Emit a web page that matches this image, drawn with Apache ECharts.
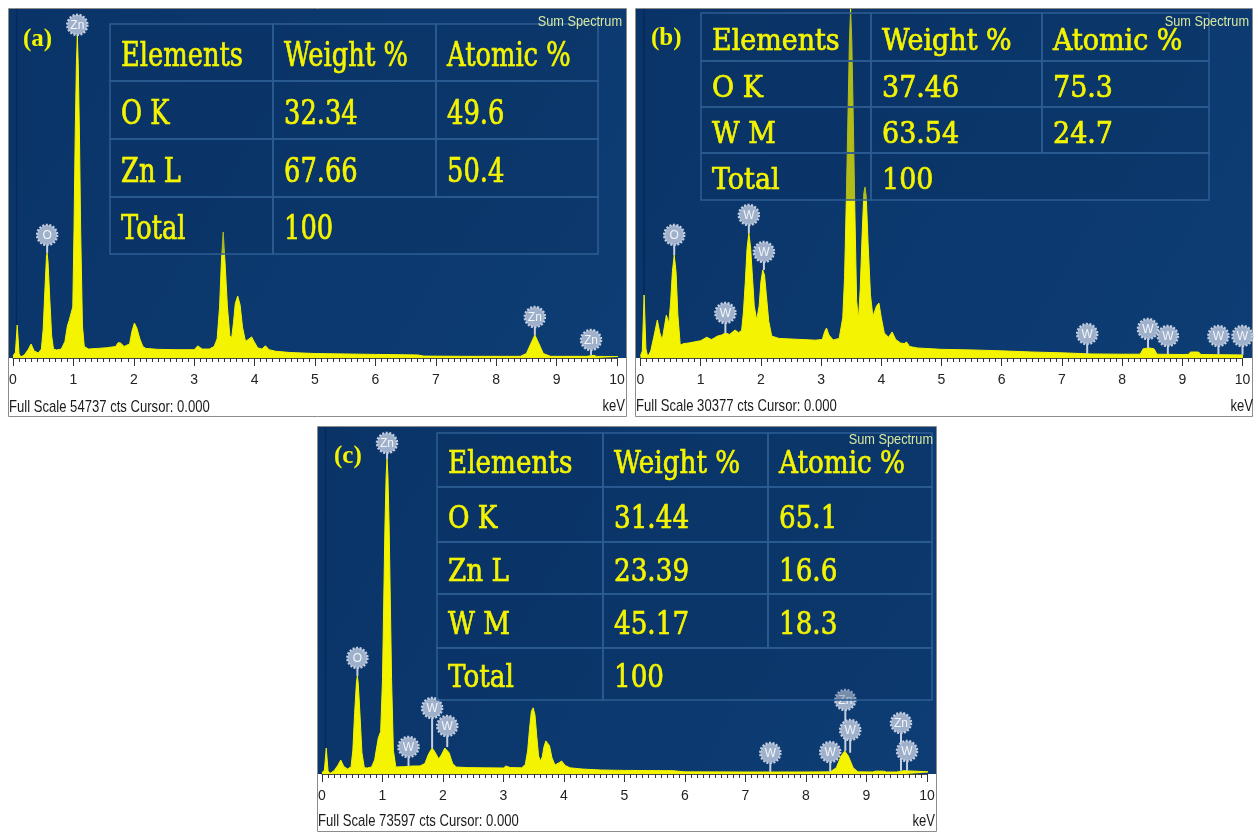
<!DOCTYPE html>
<html>
<head>
<meta charset="utf-8">
<script src="https://cdn.jsdelivr.net/npm/echarts@6/dist/echarts.min.js"></script>
<style>
  html, body { margin: 0; padding: 0; background: #ffffff; }
  #chart { width: 1258px; height: 833px; }
</style>
</head>
<body>
<div id="chart"></div>
<script>
// ---- EDS spectra: energy (keV) vs counts ----
const fullScaleA = 54737;
const fullScaleB = 30377;
const fullScaleC = 73597;
const energyRange = [0, 10];

// (a) ZnO
const spectrumA = [
  [0.00, 300], [0.04, 900], [0.07, 5160], [0.10, 700], [0.13, 150], [0.19, 500], [0.25, 1300], [0.30, 2190], [0.35, 1100], [0.42, 800],
  [0.47, 1400], [0.50, 4500], [0.53, 11000], [0.555, 16000], [0.565, 16400], [0.58, 15000], [0.61, 9000], [0.64, 3500], [0.67, 1400],
  [0.72, 1250], [0.80, 1400], [0.86, 2600], [0.90, 5000], [0.93, 5900], [0.96, 5600],
  [0.99, 8000], [1.01, 20000], [1.03, 35000], [1.05, 46000], [1.065, 50400], [1.08, 46000], [1.10, 35000], [1.12, 20000], [1.15, 5000], [1.18, 1800],
  [1.25, 1400], [1.40, 1500], [1.55, 1600], [1.70, 1800], [1.74, 2400], [1.78, 2350], [1.84, 1800],
  [1.93, 2200], [1.97, 4200], [2.01, 5470], [2.05, 4700], [2.10, 3000], [2.15, 1800], [2.20, 1500],
  [2.40, 1350], [2.70, 1300], [3.00, 1300], [3.06, 1900], [3.09, 2030], [3.13, 1400], [3.25, 1400], [3.33, 1800],
  [3.38, 3000], [3.42, 8000], [3.45, 15000], [3.48, 19700], [3.51, 15000], [3.55, 8000], [3.59, 3500], [3.62, 3100],
  [3.65, 5500], [3.68, 8500], [3.72, 9700], [3.76, 8300], [3.80, 4800], [3.85, 2600], [3.91, 3000], [3.95, 3300], [3.99, 2600],
  [4.05, 1600], [4.12, 1400], [4.18, 1900], [4.24, 1300], [4.35, 1050], [4.60, 850], [5.00, 700], [6.00, 560], [6.70, 480],
  [6.80, 300], [7.50, 260], [8.40, 260], [8.50, 700], [8.58, 2400], [8.64, 3600], [8.70, 2400], [8.78, 700], [8.90, 260],
  [9.50, 260], [9.53, 420], [9.62, 420], [9.66, 250], [10.15, 220]
];

// (b) WO3
const spectrumB = [
  [0.00, 200], [0.03, 600], [0.06, 5470], [0.09, 800], [0.12, 100], [0.17, 600], [0.22, 1800], [0.28, 3300], [0.32, 2200], [0.36, 1560],
  [0.40, 2800], [0.43, 3730], [0.47, 3000], [0.50, 4800], [0.53, 7500], [0.56, 8940], [0.59, 7500], [0.62, 3800], [0.66, 1130],
  [0.72, 1250], [0.80, 1300], [0.90, 1400], [1.00, 1500], [1.10, 1800], [1.18, 1600], [1.28, 1900], [1.35, 2000], [1.41, 2170],
  [1.48, 2050], [1.57, 2430], [1.63, 2200],
  [1.68, 2400], [1.71, 4000], [1.74, 6500], [1.77, 9500], [1.80, 10850], [1.83, 9500], [1.86, 7000], [1.89, 4500], [1.93, 3300],
  [1.97, 4500], [2.00, 6600], [2.03, 7640], [2.06, 7200], [2.09, 5500], [2.13, 3200], [2.18, 1900],
  [2.30, 1700], [2.50, 1650], [2.70, 1600], [2.90, 1550], [3.02, 1600], [3.06, 2300], [3.09, 2600], [3.13, 2000], [3.20, 1560],
  [3.30, 1700], [3.36, 3500], [3.39, 7000], [3.42, 14000], [3.45, 22000], [3.47, 27500], [3.49, 30300], [3.51, 27500], [3.53, 22000],
  [3.56, 13000], [3.59, 5000], [3.62, 3300], [3.65, 6000], [3.68, 10500], [3.71, 14300], [3.73, 14840], [3.75, 14000], [3.78, 10000],
  [3.82, 5500], [3.86, 3600], [3.92, 4500], [3.96, 4770], [4.00, 3500], [4.05, 2170], [4.12, 1800], [4.18, 2260], [4.24, 1600], [4.32, 1300],
  [4.38, 1250], [4.42, 1390], [4.47, 1000], [4.60, 870], [5.00, 750], [5.50, 700], [6.00, 620], [6.50, 520], [7.00, 450],
  [7.50, 350], [8.00, 330], [8.30, 330], [8.35, 800], [8.45, 870], [8.53, 800], [8.58, 330], [9.00, 300], [9.10, 320],
  [9.14, 520], [9.27, 520], [9.31, 300], [10.15, 260]
];

// (c) ZnO/WO3
const spectrumC = [
  [0.00, 300], [0.04, 800], [0.07, 5500], [0.10, 700], [0.13, 100], [0.20, 700], [0.26, 1800], [0.31, 2960], [0.36, 1600], [0.42, 1060],
  [0.48, 1500], [0.51, 5000], [0.54, 13000], [0.57, 19500], [0.585, 20700], [0.60, 19000], [0.63, 12000], [0.66, 4500], [0.70, 1300],
  [0.75, 1270], [0.82, 1500], [0.87, 3000], [0.93, 7600], [0.97, 9000],
  [1.00, 20000], [1.02, 36000], [1.04, 52000], [1.06, 63000], [1.075, 66600], [1.09, 63000], [1.11, 52000], [1.13, 36000], [1.15, 20000], [1.18, 5000],
  [1.22, 1480], [1.35, 1550], [1.50, 1690], [1.62, 1700],
  [1.70, 2200], [1.76, 4200], [1.82, 5500], [1.86, 4800], [1.93, 3170], [1.98, 4200], [2.03, 5500], [2.06, 5700], [2.10, 4500],
  [2.16, 2200], [2.22, 1480], [2.40, 1350], [2.70, 1300], [3.00, 1270], [3.04, 1700], [3.07, 1750], [3.11, 1350], [3.30, 1300],
  [3.36, 2000], [3.40, 5000], [3.43, 9500], [3.46, 13200], [3.49, 14000], [3.52, 12500], [3.55, 8000], [3.58, 3800], [3.61, 2750],
  [3.64, 3600], [3.67, 5800], [3.70, 7000], [3.73, 7200], [3.76, 6000], [3.80, 3500], [3.85, 1900],
  [3.92, 2400], [3.96, 2750], [4.02, 1800], [4.10, 1300], [4.30, 1050],
  [4.60, 850], [5.00, 760], [5.80, 700], [6.00, 450], [7.00, 420], [8.00, 420], [8.40, 450], [8.50, 1300], [8.58, 3800],
  [8.64, 4870], [8.70, 3800], [8.78, 1300], [8.86, 450], [9.10, 420], [9.15, 600], [9.28, 600], [9.33, 420], [9.50, 420],
  [9.52, 700], [9.62, 700], [9.65, 420], [10.15, 400]
];

// Element markers: [keV, counts at stem foot, counts at badge centre, symbol]
const markersA = [
  [1.065, 50400, 52100, 'Zn'], [0.565, 16400, 19240, 'O'], [8.64, 3600, 6410, 'Zn'], [9.57, 420, 2815, 'Zn']
];
const markersB = [
  [0.56, 8940, 10680, 'O'], [1.41, 2170, 3906, 'W'], [1.80, 10850, 12410, 'W'], [2.05, 7640, 9200, 'W'],
  [7.42, 350, 2083, 'W'], [8.43, 870, 2517, 'W'], [8.76, 330, 1910, 'W'], [9.60, 300, 1910, 'W'], [10.00, 280, 1910, 'W']
];
const markersC = [
  [1.075, 66600, 70000, 'Zn'], [0.585, 20700, 24530, 'O'], [1.43, 1600, 5710, 'W'], [1.82, 5500, 13960, 'W'], [2.07, 5700, 10150, 'W'],
  [7.41, 420, 4440, 'W'], [8.40, 450, 4650, 'W'], [8.65, 4870, 15650, 'Zn'], [8.73, 4500, 9300, 'W'],
  [9.57, 700, 10790, 'Zn'], [9.67, 700, 4860, 'W']
];

// Quantification tables
const tableHeader = ['Elements', 'Weight %', 'Atomic %'];
const rowsA = [['O K', '32.34', '49.6'], ['Zn L', '67.66', '50.4'], ['Total', '100']];
const rowsB = [['O K', '37.46', '75.3'], ['W M', '63.54', '24.7'], ['Total', '100']];
const rowsC = [['O K', '31.44', '65.1'], ['Zn L', '23.39', '16.6'], ['W M', '45.17', '18.3'], ['Total', '100']];

const panelLetters = ['(a)', '(b)', '(c)'];

// ---- layout ----
const panels = [
  { name: panelLetters[0], fs: fullScaleA, spec: spectrumA, markers: markersA, rows: rowsA,
    grid: { left: 13, top: 8, width: 604, height: 350 },
    outer: [8.5, 8.5, 618, 408], blue: [9, 9, 617, 349],
    colX: [110, 273, 436, 598], rowY: [24, 81, 139, 197, 254], font: 33, sx: 0.78,
    letter: [23, 40], sum: [622, 21.5], full: [9, 407], kev: [625, 406] },
  { name: panelLetters[1], fs: fullScaleB, spec: spectrumB, markers: markersB, rows: rowsB,
    grid: { left: 640.5, top: 8, width: 602, height: 350 },
    outer: [635.5, 8.5, 617, 408], blue: [636, 9, 616, 349],
    colX: [701, 871, 1042, 1209], rowY: [13, 61, 107, 153, 200], font: 29.5, sx: 0.913,
    letter: [651, 39], sum: [1249, 21.5], full: [636, 406], kev: [1253, 406] },
  { name: panelLetters[2], fs: fullScaleC, spec: spectrumC, markers: markersC, rows: rowsC,
    grid: { left: 322, top: 426, width: 605, height: 348 },
    outer: [317.5, 426.5, 619, 405], blue: [318, 427, 618, 347],
    colX: [437, 603, 768, 932], rowY: [433, 487, 542, 594, 648, 700], font: 32.5, sx: 0.807,
    letter: [334, 457], sum: [933, 440], full: [318, 821], kev: [935, 821] }
];

const YELLOW = '#f4f400';
const graphics = [];

panels.forEach(function (p, i) {
  // frame and plot background
  graphics.push({ type: 'rect', z: -20, shape: { x: p.outer[0], y: p.outer[1], width: p.outer[2], height: p.outer[3] },
    style: { fill: '#ffffff', stroke: '#8c8c8c', lineWidth: 1 } });
  graphics.push({ type: 'rect', z: -10, shape: { x: p.blue[0], y: p.blue[1], width: p.blue[2], height: p.blue[3] },
    style: { fill: new echarts.graphic.LinearGradient(0, 0, 1, 1, [
      { offset: 0, color: '#0a3468' }, { offset: 1, color: '#0d3d74' }]) } });
  // faint detector baseline marker on the left
  graphics.push({ type: 'line', z: -9, shape: { x1: p.grid.left + 3.5, y1: p.blue[1], x2: p.grid.left + 3.5, y2: p.blue[1] + p.blue[3] },
    style: { stroke: '#07285a', lineWidth: 1.5 } });

  // table cells
  const allRows = [tableHeader].concat(p.rows);
  allRows.forEach(function (row, r) {
    const y0 = p.rowY[r], y1 = p.rowY[r + 1];
    row.forEach(function (cell, c) {
      const x0 = p.colX[c];
      const x1 = (c === row.length - 1) ? p.colX[p.colX.length - 1] : p.colX[c + 1];
      graphics.push({ type: 'rect', z: 20, shape: { x: x0, y: y0, width: x1 - x0, height: y1 - y0 },
        style: { fill: 'rgba(10,45,95,0.28)', stroke: '#2c5d92', lineWidth: 1.5 } });
      graphics.push({ type: 'text', z: 21, x: x0 + 11, y: (y0 + y1) / 2 + 5, scaleX: p.sx,
        style: { text: cell, x: 0, y: 0, verticalAlign: 'middle', align: 'left', fill: YELLOW,
          stroke: YELLOW, lineWidth: 0.7,
          fontSize: p.font, fontFamily: 'DejaVu Serif' } });
    });
  });

  // panel letter
  graphics.push({ type: 'text', z: 21, x: p.letter[0], y: p.letter[1],
    style: { text: p.name, x: 0, y: 0, verticalAlign: 'middle', fill: YELLOW, fontSize: 25, fontWeight: 'bold',
      fontFamily: 'Liberation Serif' } });
  // spectrum title
  graphics.push({ type: 'text', z: 21, x: p.sum[0], y: p.sum[1], scaleX: 0.85,
    style: { text: 'Sum Spectrum', x: 0, y: 0, align: 'right', verticalAlign: 'middle', fill: '#d9e8a0', fontSize: 15,
      fontFamily: 'Liberation Sans' } });
  // status line and unit
  graphics.push({ type: 'text', z: 21, x: p.full[0], y: p.full[1], scaleX: 0.77,
    style: { text: 'Full Scale ' + p.fs + ' cts Cursor: 0.000', x: 0, y: 0, verticalAlign: 'middle', fill: '#1a1a1a',
      fontSize: 17, fontFamily: 'Liberation Sans' } });
  graphics.push({ type: 'text', z: 21, x: p.kev[0], y: p.kev[1], scaleX: 0.77,
    style: { text: 'keV', x: 0, y: 0, align: 'right', verticalAlign: 'middle', fill: '#1a1a1a',
      fontSize: 17, fontFamily: 'Liberation Sans' } });
});

function markerSeries(markers, idx) {
  return {
    type: 'custom', xAxisIndex: idx, yAxisIndex: idx, z: 6, clip: false, silent: true,
    data: markers.map(function (m) { return [m[0], m[1], m[2]]; }),
    renderItem: function (params, api) {
      const foot = api.coord([api.value(0), api.value(1)]);
      const head = api.coord([api.value(0), api.value(2)]);
      const r = 10;
      return {
        type: 'group', children: [
          { type: 'line', shape: { x1: foot[0], y1: foot[1], x2: head[0], y2: head[1] + r },
            style: { stroke: '#c6d0e0', lineWidth: 2 } },
          { type: 'circle', shape: { cx: head[0], cy: head[1], r: r },
            style: { fill: '#9fb0ca', stroke: '#c3cde0', lineWidth: 2.5, lineDash: [2, 1.5] } },
          { type: 'text', style: { x: head[0], y: head[1] + 0.5, text: markers[params.dataIndex][3], align: 'center',
            verticalAlign: 'middle', fill: '#f2f5fa', fontSize: 12, fontFamily: 'Liberation Sans' } }
        ]
      };
    }
  };
}

const option = {
  animation: false,
  backgroundColor: '#ffffff',
  graphic: { elements: graphics },
  grid: panels.map(function (p) { return Object.assign({ containLabel: false }, p.grid); }),
  xAxis: panels.map(function (p, i) {
    return {
      type: 'value', gridIndex: i, min: energyRange[0], max: energyRange[1], interval: 1,
      axisLine: { show: true, lineStyle: { color: '#4a4a4a', width: 1 } },
      axisTick: { show: true, length: 8, lineStyle: { color: '#333333' } },
      minorTick: { show: true, splitNumber: 10, length: 4, lineStyle: { color: '#333333' } },
      axisLabel: { margin: 15, fontSize: 14, color: '#222222', fontFamily: 'Liberation Sans' },
      splitLine: { show: false }, minorSplitLine: { show: false }
    };
  }),
  yAxis: panels.map(function (p, i) {
    return { type: 'value', gridIndex: i, min: 0, max: p.fs, show: false };
  }),
  series: [].concat.apply([], panels.map(function (p, i) {
    return [
      { type: 'line', xAxisIndex: i, yAxisIndex: i, data: p.spec, showSymbol: false, clip: false, z: 3,
        lineStyle: { color: YELLOW, width: 1 }, areaStyle: { color: YELLOW, opacity: 1 } },
      markerSeries(p.markers, i)
    ];
  }))
};

const chart = echarts.init(document.getElementById('chart'), null, { renderer: 'canvas' });
chart.setOption(option);
</script>
</body>
</html>
